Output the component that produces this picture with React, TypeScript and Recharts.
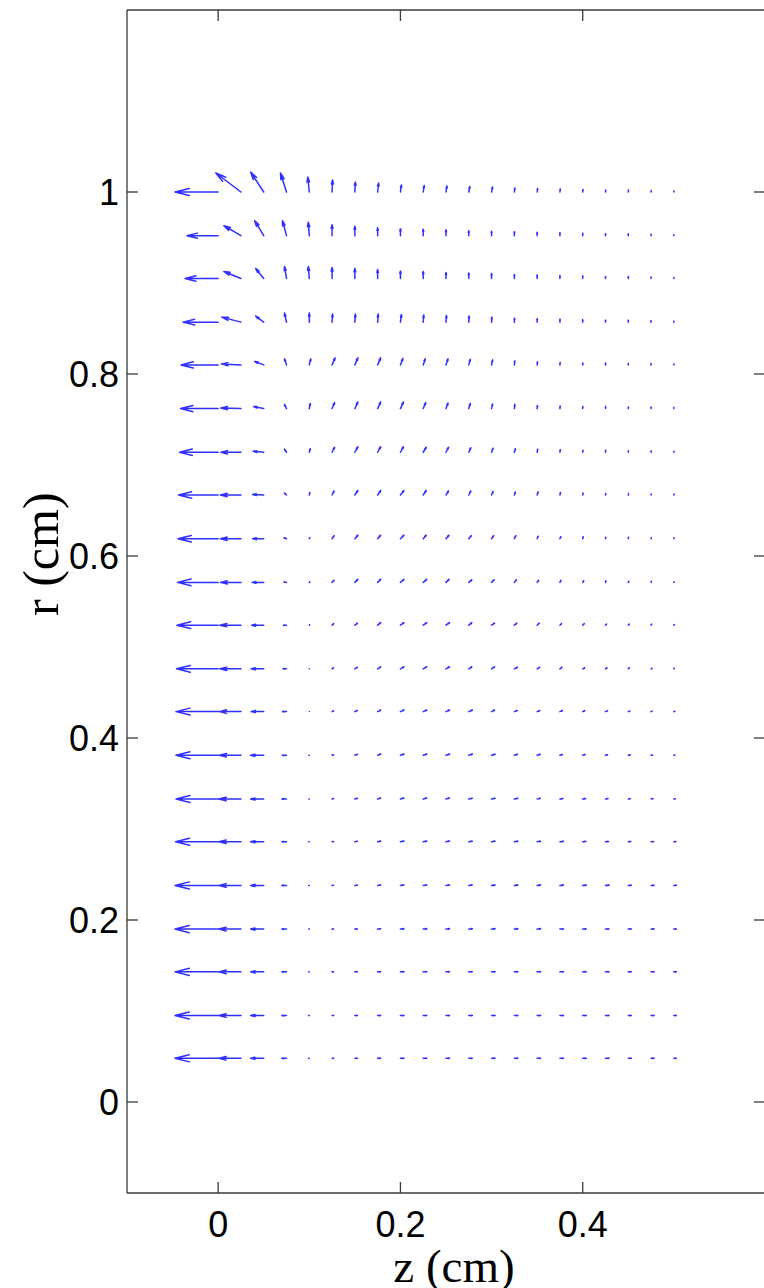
import { LineChart, Line, XAxis, YAxis } from "recharts";

// axial grid positions (cm)
const zValues = [
  0, 0.025, 0.05, 0.075, 0.1, 0.125, 0.15, 0.175, 0.2, 0.225, 0.25,
  0.275, 0.3, 0.325, 0.35, 0.375, 0.4, 0.425, 0.45, 0.475, 0.5,
];

// radial grid positions (cm), bottom row first
const rValues = [
  0.048, 0.095, 0.143, 0.19, 0.238, 0.286, 0.333, 0.381, 0.429, 0.476, 0.524,
  0.571, 0.619, 0.667, 0.714, 0.762, 0.81, 0.857, 0.905, 0.952, 1.0,
];

// axial velocity u, one row per r value
const uRows = [
  [-43, -22, -13, -4.5, -0.5, 1.5, 2.5, 3, 3.5, 3.5, 3.5, 3.5, 3.5, 3.5, 3.5, 3.5, 3.5, 3.5, 3, 3, 2.5],
  [-43, -22, -13, -4.5, -0.5, 1.5, 2.5, 3, 3.5, 3.5, 3.5, 3.5, 3.5, 3.5, 3.5, 3.5, 3.5, 3.5, 3, 3, 2.5],
  [-43, -22, -13, -4.5, -0.5, 1.5, 2.5, 3, 3.5, 3.5, 3.5, 3.5, 3.5, 3.5, 3.5, 3.5, 3.5, 3.5, 3, 3, 2.5],
  [-43, -22, -13, -4.5, -0.5, 1.5, 2.5, 3, 3.5, 3.5, 3.5, 3.5, 3.5, 3.5, 3.5, 3.5, 3.5, 3.5, 3, 3, 2.5],
  [-43, -22, -13, -4.5, -0.5, 1.5, 2.5, 3, 3.5, 3.5, 3.5, 3.5, 3.5, 3.5, 3.5, 3.5, 3.5, 3.5, 3, 3, 2.5],
  [-42.5, -22, -13, -4.5, -0.5, 1.5, 2.5, 3, 3.5, 3.5, 3.5, 3.5, 3.5, 3.5, 3.5, 3.5, 3, 3, 2.5, 2.5, 2],
  [-42, -22, -13, -4.5, -0.3, 1.5, 2.5, 3, 3.5, 3.5, 3.5, 3.5, 3.5, 3.5, 3, 3, 3, 2.5, 2, 2, 1.5],
  [-42, -21.5, -13, -4, -0.3, 1.5, 2.5, 3, 3.5, 3.5, 3.5, 3.5, 3.5, 3, 3, 2.5, 2.5, 2, 2, 1.5, 1],
  [-42, -21.5, -12.5, -4, 0, 1.5, 2.5, 3, 3.5, 3.5, 3.5, 3.5, 3, 3, 2.5, 2.5, 2, 2, 1.5, 1, 1],
  [-41.5, -21, -12.5, -3.5, 0, 1.5, 2.5, 3, 3.5, 3.5, 3.5, 3, 3, 3, 2.5, 2, 2, 1.5, 1, 1, 0.5],
  [-41, -21, -12, -3, 0.3, 1.5, 2.5, 3, 3.5, 3.5, 3.5, 3, 3, 2.5, 2, 1.5, 1.5, 1, 1, 0.5, 0.5],
  [-40.5, -20.5, -11.5, -2.5, 0.3, 2, 3, 3, 3.5, 3.5, 3, 3, 2.5, 2, 1.5, 1, 1, 0.5, 0.5, 0.3, 0.3],
  [-40, -20.5, -11, -2.5, 0.5, 2, 3, 3, 3.5, 3, 3, 2.5, 2, 1.5, 1, 1, 0.5, 0.3, 0.3, 0.2, 0.2],
  [-39.5, -20.5, -11, -2, 0.5, 2, 3, 3, 3.5, 3, 2.5, 2, 1.5, 1, 1, 0.5, 0.3, 0.2, 0.2, 0.1, 0.1],
  [-38.5, -20, -10.5, -2, 1, 2.5, 3, 3, 3, 3, 2.5, 2, 1.5, 1, 0.5, 0.3, 0.2, 0.2, 0.1, 0.1, 0.1],
  [-37.5, -20, -10, -2, 1, 2.5, 3, 3, 3, 2.5, 2, 1.5, 1, 0.5, 0.3, 0.2, 0.1, 0.1, 0.1, 0, 0],
  [-37, -19.5, -9, -2, 1.5, 3, 3, 3, 2.5, 2, 2, 1.5, 1, 0.5, 0.3, 0.2, 0.1, 0.1, 0, 0, 0],
  [-35, -19, -8, -2, 0, 0.5, 0.5, 0.5, 1, 0.5, 0.5, 0.3, 0.3, 0.2, 0.1, 0.1, 0, 0, 0, 0, 0],
  [-33, -17, -8, -2, -1, 0, 0, 0, 0, 0, 0, 0, 0, 0, 0, 0, 0, 0, 0, 0, 0],
  [-31, -17, -9, -4, -1, 0, 0, 0, 0, 0, 0, 0, 0, 0, 0, 0, 0, 0, 0, 0, 0],
  [-43, -25, -13, -6, -1.5, 0.5, 0.5, 1, 1, 1, 1, 1, 1, 0.5, 0.5, 0.3, 0.3, 0.2, 0.2, 0.2, 0.1],
];

// radial velocity v, one row per r value
const vRows = [
  [0, 0, 0, 0, 0, 0, 0, 0.05, 0.05, 0.05, 0.05, 0.05, 0.05, 0.05, 0.05, 0.05, 0.05, 0.05, 0.05, 0, 0],
  [0, 0, 0, 0, 0, 0.1, 0.1, 0.1, 0.1, 0.1, 0.1, 0.1, 0.1, 0.1, 0.1, 0.1, 0.1, 0.1, 0.1, 0.1, 0],
  [0, 0, 0, 0, 0, 0.1, 0.2, 0.2, 0.2, 0.2, 0.2, 0.2, 0.2, 0.2, 0.2, 0.2, 0.1, 0.1, 0.1, 0.1, 0.1],
  [0, 0, 0, 0, 0, 0.1, 0.2, 0.3, 0.3, 0.3, 0.3, 0.3, 0.3, 0.3, 0.3, 0.2, 0.2, 0.2, 0.2, 0.1, 0.1],
  [0, 0, 0, 0, 0, 0.2, 0.4, 0.5, 0.5, 0.5, 0.5, 0.5, 0.4, 0.4, 0.4, 0.3, 0.3, 0.3, 0.2, 0.2, 0.2],
  [0, 0, 0, 0, 0, 0.3, 0.6, 0.7, 0.7, 0.7, 0.7, 0.6, 0.6, 0.5, 0.5, 0.4, 0.4, 0.3, 0.3, 0.2, 0.2],
  [0, 0, 0, 0, 0, 0.4, 0.8, 1, 1, 1, 1, 0.8, 0.8, 0.8, 0.6, 0.5, 0.5, 0.4, 0.3, 0.3, 0.2],
  [0, 0, 0, 0, 0, 0.5, 1, 1.2, 1.2, 1.2, 1.2, 1.2, 1, 1, 1, 0.8, 0.8, 0.5, 0.5, 0.3, 0.3],
  [0, 0, 0, 0, 0, 0.8, 1.2, 1.5, 1.5, 1.5, 1.5, 1.5, 1.5, 1.2, 1, 1, 1, 0.8, 0.5, 0.5, 0.3],
  [0, 0, 0, 0, 0.2, 1, 1.5, 2, 2, 2, 2, 2, 2, 1.5, 1.5, 1.5, 1, 1, 1, 0.5, 0.5],
  [0, 0, 0, 0, 0.3, 1.5, 2, 2.5, 2.5, 2.5, 2.5, 2.5, 2, 2, 2, 1.5, 1.5, 1, 1, 1, 0.5],
  [0, 0, 0, 0.5, 0.5, 2, 3, 3, 3, 3, 3, 2.5, 2.5, 2.5, 2, 2, 1.5, 1.5, 1, 1, 0.5],
  [0, 0, 0, 1, 1, 3, 3.5, 3.5, 3.5, 3.5, 3.5, 3, 3, 3, 2.5, 2, 2, 1.5, 1.5, 1, 1],
  [0, 0, 0.5, 2, 2.5, 4, 4.5, 4.5, 4.5, 4.5, 4, 4, 3.5, 3, 3, 2.5, 2, 1.5, 1.5, 1, 1],
  [0, 0, 1, 3, 3.5, 5, 5.5, 5.5, 5.5, 5, 5, 4.5, 4, 3.5, 3, 2.5, 2, 2, 1.5, 1.5, 1],
  [0, 0.5, 2, 4, 5, 6, 6.5, 6.5, 6.5, 6, 5.5, 5, 4.5, 4, 3, 2.5, 2, 2, 1.5, 1.5, 1],
  [0, 1, 3.5, 6, 6, 7, 7, 7, 6.5, 6, 6, 5.5, 5, 4, 3, 2.5, 2, 2, 1.5, 1.5, 1],
  [0, 5, 6, 9, 9, 8, 8, 8, 7.5, 7, 6.5, 6, 5, 4, 3.5, 3, 2.5, 2, 2, 1.5, 1],
  [0, 7, 10, 12, 12, 11, 10, 9, 7.5, 7, 6, 5.5, 5, 4, 3.5, 3, 2.5, 2, 2, 1.5, 1],
  [0, 10, 15, 15, 13.5, 11, 9.5, 8, 7, 6.5, 6, 5, 4.5, 4, 3.5, 3, 2.5, 2, 2, 1.5, 1],
  [0, 19, 20, 19, 15, 12, 10, 9, 7, 6.5, 6, 5.5, 5, 4, 3.5, 3, 2.5, 2, 2, 1.5, 1],
];

const zTicks = [0, 0.2, 0.4];
const rTicks = [0, 0.2, 0.4, 0.6, 0.8, 1];

const QUIVER_SCALE = 0.0011; // arrow length in cm per velocity unit
const HEAD_LENGTH = 0.33; // head length relative to arrow
const HEAD_WIDTH = 0.25; // half-width of head relative to head length

type ArrowPoint = { z: number; r: number | null };

// each arrow: shaft, break, two head strokes meeting at the tip, break
function buildArrows(): ArrowPoint[] {
  const pts: ArrowPoint[] = [];
  rValues.forEach((r, i) => {
    zValues.forEach((z, j) => {
      const u = uRows[i][j] * QUIVER_SCALE;
      const v = vRows[i][j] * QUIVER_SCALE;
      const tz = z + u;
      const tr = r + v;
      pts.push({ z, r }, { z: tz, r: tr }, { z, r: null });
      pts.push({
        z: tz - HEAD_LENGTH * (u + HEAD_WIDTH * v),
        r: tr - HEAD_LENGTH * (v - HEAD_WIDTH * u),
      });
      pts.push({ z: tz, r: tr });
      pts.push({
        z: tz - HEAD_LENGTH * (u - HEAD_WIDTH * v),
        r: tr - HEAD_LENGTH * (v + HEAD_WIDTH * u),
      });
      pts.push({ z, r: null });
    });
  });
  return pts;
}

const arrowData = buildArrows();

const sansFont = "'Liberation Sans', Arial, Helvetica, sans-serif";
const serifFont = "'Liberation Serif', 'Times New Roman', serif";
const axisColor = "#3a3a3a";
const noLabel = () => "";

function XTitle({ viewBox }: any) {
  const x = viewBox.x + viewBox.width / 2 + 8;
  const y = viewBox.y + 89;
  return (
    <text x={x} y={y} textAnchor="middle" fontFamily={serifFont} fontSize={47} fill="#000">
      z (cm)
    </text>
  );
}

function YTitle({ viewBox }: any) {
  const x = viewBox.x + 41;
  const y = viewBox.y + viewBox.height * 0.46;
  return (
    <text
      x={x}
      y={y}
      transform={`rotate(-90 ${x} ${y})`}
      textAnchor="middle"
      dominantBaseline="central"
      fontFamily={serifFont}
      fontSize={50}
      fill="#000"
    >
      r (cm)
    </text>
  );
}

export default function App() {
  const tickStyle = { fontSize: 36, fill: "#000", fontFamily: sansFont };
  const lineStyle = { stroke: axisColor, strokeWidth: 1.3 };
  return (
    <div
      style={{
        position: "absolute",
        left: 0,
        top: 0,
        width: 764,
        height: 1288,
        overflow: "hidden",
        background: "#fff",
      }}
    >
      <LineChart
        width={785}
        height={1288}
        data={arrowData}
        margin={{ top: 0, right: 0, bottom: 0, left: 0 }}
      >
        <XAxis
          dataKey="z"
          type="number"
          domain={[-0.1, 0.6]}
          allowDataOverflow
          ticks={zTicks}
          interval={0}
          height={95}
          tickSize={-11}
          tickMargin={29}
          tick={tickStyle}
          axisLine={lineStyle}
          tickLine={lineStyle}
          label={{ content: XTitle }}
        />
        <XAxis
          xAxisId="top"
          dataKey="z"
          orientation="top"
          type="number"
          domain={[-0.1, 0.6]}
          allowDataOverflow
          ticks={zTicks}
          interval={0}
          height={10}
          tickSize={-11}
          tickFormatter={noLabel}
          axisLine={lineStyle}
          tickLine={lineStyle}
        />
        <YAxis
          type="number"
          domain={[-0.1, 1.2]}
          allowDataOverflow
          ticks={rTicks}
          interval={0}
          width={127}
          tickSize={-11}
          tickMargin={19}
          tick={tickStyle}
          axisLine={lineStyle}
          tickLine={lineStyle}
          label={{ content: YTitle }}
        />
        <YAxis
          yAxisId="right"
          orientation="right"
          type="number"
          domain={[-0.1, 1.2]}
          allowDataOverflow
          ticks={rTicks}
          interval={0}
          width={20}
          tickSize={-11}
          tickFormatter={noLabel}
          axisLine={lineStyle}
          tickLine={lineStyle}
        />
        <Line
          dataKey="r"
          type="linear"
          stroke="#3030ff"
          strokeWidth={1.5}
          strokeLinecap="round"
          strokeLinejoin="round"
          dot={false}
          activeDot={false}
          connectNulls={false}
          isAnimationActive={false}
        />
      </LineChart>
    </div>
  );
}
